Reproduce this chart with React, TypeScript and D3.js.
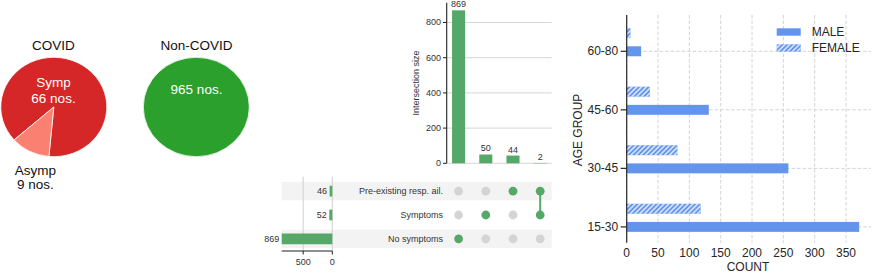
import { useEffect, useRef } from "react";
import * as d3 from "d3";

// pie data
const covidLabels = ["Symp", "Asymp"];
const covidCounts = [66, 9];
const nonCovidCount = 965;

// upset data
const setNames = ["Pre-existing resp. ail.", "Symptoms", "No symptoms"];
const setTotals = [46, 52, 869];
const intersectionSizes = [869, 50, 44, 2];
const memberships = [
  ["No symptoms"],
  ["Symptoms"],
  ["Pre-existing resp. ail."],
  ["Pre-existing resp. ail.", "Symptoms"],
];
const interTicks = [0, 200, 400, 600, 800];
const totalTicks = [0, 500];

// age / gender data
const ageGroups = ["15-30", "30-45", "45-60", "60-80"];
const maleCounts = [371, 258, 131, 23];
const femaleCounts = [118, 81, 37, 6];
const countTicks = [0, 50, 100, 150, 200, 250, 300, 350];

const FONT = "'Liberation Sans', Arial, Helvetica, sans-serif";
const GREEN = "#55a868";
const BLUE = "#6495ed";

export default function App() {
  const ref = useRef(null);

  useEffect(() => {
    const svg = d3.select(ref.current);
    svg.selectAll("*").remove();
    svg.style("font-family", FONT);

    const defs = svg.append("defs");
    defs
      .append("pattern")
      .attr("id", "hatch")
      .attr("patternUnits", "userSpaceOnUse")
      .attr("width", 3.4)
      .attr("height", 3.4)
      .attr("patternTransform", "rotate(45)")
      .append("line")
      .attr("x1", 1.7)
      .attr("x2", 1.7)
      .attr("y1", 0)
      .attr("y2", 3.4)
      .attr("stroke", "#fff")
      .attr("stroke-width", 1.2);

    // ---------- pies ----------
    const rad = (deg) => (deg * Math.PI) / 180;
    const arc = d3.arc().innerRadius(0).outerRadius(53);

    const covidPie = d3
      .pie()
      .sort(null)
      .startAngle(rad(228.5))
      .endAngle(rad(228.5 + 360));
    const gc = svg.append("g").attr("transform", "translate(53.8,107) scale(1,0.937)");
    gc.selectAll("path")
      .data(covidPie(covidCounts))
      .join("path")
      .attr("d", arc)
      .attr("fill", (d, i) => ["#d62728", "#fa8072"][i])
      .attr("stroke", "#fff")
      .attr("stroke-width", 0.8);

    const gn = svg.append("g").attr("transform", "translate(196.3,107) scale(1,0.937)");
    gn.selectAll("path")
      .data(d3.pie().sort(null)([nonCovidCount]))
      .join("path")
      .attr("d", arc)
      .attr("fill", "#2ca02c")
      .attr("stroke", "#fff")
      .attr("stroke-width", 0.8);

    const pieText = (x, y, t, fill, size = 13.5) =>
      svg
        .append("text")
        .attr("x", x)
        .attr("y", y)
        .attr("text-anchor", "middle")
        .attr("dominant-baseline", "central")
        .attr("font-size", size)
        .attr("fill", fill)
        .text(t);

    pieText(53.5, 45, "COVID", "#111", 13.5);
    pieText(196.5, 45, "Non-COVID", "#111", 13.5);
    pieText(53.5, 82, covidLabels[0], "#fff");
    pieText(53.5, 98.5, `${covidCounts[0]} nos.`, "#fff");
    pieText(35.3, 170, covidLabels[1], "#111");
    pieText(35.3, 184, `${covidCounts[1]} nos.`, "#111");
    pieText(196.5, 89.5, `${nonCovidCount} nos.`, "#fff");

    // ---------- upset ----------
    const ux = d3
      .scaleBand()
      .domain(d3.range(intersectionSizes.length))
      .range([445, 553.8]);
    const uy = d3
      .scaleLinear()
      .domain([0, d3.max(intersectionSizes) * 1.05])
      .range([163.3, 2.7]);
    const rowY = d3.scaleBand().domain(setNames).range([179.2, 250.8]);
    const tx = d3.scaleLinear().domain([0, d3.max(setTotals)]).range([332.3, 281.7]);
    const gridEnd = 551.7;
    const utext = "#333";

    const gu = svg.append("g").attr("font-size", 9).attr("fill", utext);

    // gridlines
    gu.selectAll("line.ygrid")
      .data(interTicks)
      .join("line")
      .attr("class", "ygrid")
      .attr("x1", 446.7)
      .attr("x2", gridEnd)
      .attr("y1", (d) => uy(d))
      .attr("y2", (d) => uy(d))
      .attr("stroke", "#d6d6d6")
      .attr("stroke-width", 1);

    // y axis
    gu.append("line")
      .attr("x1", 446.7)
      .attr("x2", 446.7)
      .attr("y1", uy.range()[1])
      .attr("y2", uy.range()[0])
      .attr("stroke", "#222")
      .attr("stroke-width", 1.1);
    gu.selectAll("line.ytick")
      .data(interTicks)
      .join("line")
      .attr("class", "ytick")
      .attr("x1", 443)
      .attr("x2", 446.7)
      .attr("y1", (d) => uy(d))
      .attr("y2", (d) => uy(d))
      .attr("stroke", "#222");
    gu.selectAll("text.ytl")
      .data(interTicks)
      .join("text")
      .attr("class", "ytl")
      .attr("x", 441)
      .attr("y", (d) => uy(d))
      .attr("text-anchor", "end")
      .attr("dominant-baseline", "central")
      .text((d) => d);
    gu.append("text")
      .attr("transform", "translate(415.7,83) rotate(-90)")
      .attr("text-anchor", "middle")
      .attr("dominant-baseline", "central")
      .text("Intersection size");

    // intersection bars
    const bw = ux.bandwidth() * 0.48;
    gu.selectAll("rect.ibar")
      .data(intersectionSizes)
      .join("rect")
      .attr("class", "ibar")
      .attr("x", (d, i) => ux(i) + ux.bandwidth() / 2 - bw / 2)
      .attr("width", bw)
      .attr("y", (d) => uy(d))
      .attr("height", (d) => uy(0) - uy(d))
      .attr("fill", GREEN);
    gu.selectAll("text.ilab")
      .data(intersectionSizes)
      .join("text")
      .attr("class", "ilab")
      .attr("x", (d, i) => ux(i) + ux.bandwidth() / 2)
      .attr("y", (d) => uy(d) - 3)
      .attr("text-anchor", "middle")
      .text((d) => d);

    // matrix shading
    const rh = rowY.bandwidth() * 0.77;
    gu.selectAll("rect.shade")
      .data(setNames.filter((d, i) => i % 2 === 0))
      .join("rect")
      .attr("class", "shade")
      .attr("x", 281.7)
      .attr("width", gridEnd - 281.7)
      .attr("y", (d) => rowY(d) + rowY.bandwidth() / 2 - rh / 2)
      .attr("height", rh)
      .attr("fill", "#f3f3f3");

    // totals grid + axis
    gu.selectAll("line.tgrid")
      .data(totalTicks)
      .join("line")
      .attr("class", "tgrid")
      .attr("x1", (d) => tx(d))
      .attr("x2", (d) => tx(d))
      .attr("y1", 176.7)
      .attr("y2", 251)
      .attr("stroke", "#d0d0d0");
    gu.append("line")
      .attr("x1", tx.range()[1])
      .attr("x2", tx.range()[0])
      .attr("y1", 251)
      .attr("y2", 251)
      .attr("stroke", "#222")
      .attr("stroke-width", 1.1);
    gu.selectAll("line.ttick")
      .data(totalTicks)
      .join("line")
      .attr("class", "ttick")
      .attr("x1", (d) => tx(d))
      .attr("x2", (d) => tx(d))
      .attr("y1", 251)
      .attr("y2", 254.5)
      .attr("stroke", "#222");
    gu.selectAll("text.ttl")
      .data(totalTicks)
      .join("text")
      .attr("class", "ttl")
      .attr("x", (d) => tx(d))
      .attr("y", 261.7)
      .attr("text-anchor", "middle")
      .attr("dominant-baseline", "central")
      .text((d) => d);

    // totals bars
    const tbh = rowY.bandwidth() * 0.45;
    gu.selectAll("rect.tbar")
      .data(setTotals)
      .join("rect")
      .attr("class", "tbar")
      .attr("x", (d) => tx(d))
      .attr("width", (d) => tx(0) - tx(d))
      .attr("y", (d, i) => rowY(setNames[i]) + rowY.bandwidth() / 2 - tbh / 2)
      .attr("height", tbh)
      .attr("fill", GREEN);
    gu.selectAll("text.tlab")
      .data(setTotals)
      .join("text")
      .attr("class", "tlab")
      .attr("x", (d) => tx(d) - 2.5)
      .attr("y", (d, i) => rowY(setNames[i]) + rowY.bandwidth() / 2)
      .attr("text-anchor", "end")
      .attr("dominant-baseline", "central")
      .text((d) => d);

    // row labels
    gu.selectAll("text.rlab")
      .data(setNames)
      .join("text")
      .attr("class", "rlab")
      .attr("x", 443)
      .attr("y", (d) => rowY(d) + rowY.bandwidth() / 2)
      .attr("text-anchor", "end")
      .attr("dominant-baseline", "central")
      .text((d) => d);

    // matrix dots + connectors
    const cy = (name) => rowY(name) + rowY.bandwidth() / 2;
    memberships.forEach((members, i) => {
      const cx = ux(i) + ux.bandwidth() / 2;
      if (members.length > 1) {
        const ys = members.map(cy);
        gu.append("line")
          .attr("x1", cx)
          .attr("x2", cx)
          .attr("y1", d3.min(ys))
          .attr("y2", d3.max(ys))
          .attr("stroke", GREEN)
          .attr("stroke-width", 2);
      }
      setNames.forEach((name) => {
        gu.append("circle")
          .attr("cx", cx)
          .attr("cy", cy(name))
          .attr("r", 4.4)
          .attr("fill", members.includes(name) ? GREEN : "#d4d4d4");
      });
    });

    // ---------- age group bars ----------
    const bx = d3
      .scaleLinear()
      .domain([0, d3.max(maleCounts) * 1.05])
      .range([626.7, 870.8]);
    const by = d3.scaleLinear().domain([-0.27, 3.62]).range([242.7, 15]);
    const femaleOffset = 0.31;
    const barH = by(0) - by(0.17);
    const dark = "#262626";

    const gb = svg.append("g").attr("font-size", 12).attr("fill", dark);

    gb.selectAll("line.vgrid")
      .data(countTicks)
      .join("line")
      .attr("class", "vgrid")
      .attr("x1", (d) => bx(d))
      .attr("x2", (d) => bx(d))
      .attr("y1", by.range()[1])
      .attr("y2", by.range()[0])
      .attr("stroke", "#d3d3d3")
      .attr("stroke-dasharray", "3.5,2");
    gb.selectAll("line.hgrid")
      .data(ageGroups)
      .join("line")
      .attr("class", "hgrid")
      .attr("x1", bx.range()[0])
      .attr("x2", bx.range()[1])
      .attr("y1", (d, i) => by(i))
      .attr("y2", (d, i) => by(i))
      .attr("stroke", "#d3d3d3")
      .attr("stroke-dasharray", "3.5,2");

    gb.selectAll("rect.male")
      .data(maleCounts)
      .join("rect")
      .attr("class", "male")
      .attr("x", bx(0))
      .attr("width", (d) => bx(d) - bx(0))
      .attr("y", (d, i) => by(i) - barH / 2)
      .attr("height", barH)
      .attr("fill", BLUE);

    const fem = gb
      .selectAll("g.female")
      .data(femaleCounts)
      .join("g")
      .attr("class", "female");
    fem.append("rect")
      .attr("x", bx(0))
      .attr("width", (d) => bx(d) - bx(0))
      .attr("y", (d, i) => by(i + femaleOffset) - barH / 2)
      .attr("height", barH)
      .attr("fill", BLUE);
    fem.append("rect")
      .attr("x", bx(0))
      .attr("width", (d) => bx(d) - bx(0))
      .attr("y", (d, i) => by(i + femaleOffset) - barH / 2)
      .attr("height", barH)
      .attr("fill", "url(#hatch)");

    // left spine + ticks
    gb.append("line")
      .attr("x1", bx(0))
      .attr("x2", bx(0))
      .attr("y1", by.range()[1])
      .attr("y2", by.range()[0])
      .attr("stroke", dark)
      .attr("stroke-width", 1.2);
    gb.selectAll("line.ytick")
      .data(ageGroups)
      .join("line")
      .attr("class", "ytick")
      .attr("x1", bx(0) - 6)
      .attr("x2", bx(0))
      .attr("y1", (d, i) => by(i))
      .attr("y2", (d, i) => by(i))
      .attr("stroke", dark)
      .attr("stroke-width", 1.2);
    gb.selectAll("text.ytl")
      .data(ageGroups)
      .join("text")
      .attr("class", "ytl")
      .attr("x", bx(0) - 8.5)
      .attr("y", (d, i) => by(i))
      .attr("text-anchor", "end")
      .attr("dominant-baseline", "central")
      .text((d) => d);
    gb.selectAll("text.xtl")
      .data(countTicks)
      .join("text")
      .attr("class", "xtl")
      .attr("x", (d) => bx(d))
      .attr("y", 252.5)
      .attr("text-anchor", "middle")
      .attr("dominant-baseline", "central")
      .text((d) => d);
    gb.append("text")
      .attr("x", 748)
      .attr("y", 266.5)
      .attr("text-anchor", "middle")
      .attr("dominant-baseline", "central")
      .text("COUNT");
    gb.append("text")
      .attr("transform", "translate(577.7,130) rotate(-90)")
      .attr("text-anchor", "middle")
      .attr("dominant-baseline", "central")
      .text("AGE GROUP");

    // legend
    const legend = [
      { label: "MALE", hatch: false },
      { label: "FEMALE", hatch: true },
    ];
    legend.forEach((d, i) => {
      const y = 28.3 + i * 16;
      gb.append("rect")
        .attr("x", 776.7)
        .attr("y", y)
        .attr("width", 24)
        .attr("height", 7.4)
        .attr("fill", BLUE);
      if (d.hatch)
        gb.append("rect")
          .attr("x", 776.7)
          .attr("y", y)
          .attr("width", 24)
          .attr("height", 7.4)
          .attr("fill", "url(#hatch)");
      gb.append("text")
        .attr("x", 811.7)
        .attr("y", y + 3.9)
        .attr("dominant-baseline", "central")
        .text(d.label);
    });
  }, []);

  return (
    <svg
      ref={ref}
      width={872}
      height={273}
      style={{ position: "absolute", left: 0, top: 0, background: "#fff" }}
    ></svg>
  );
}
